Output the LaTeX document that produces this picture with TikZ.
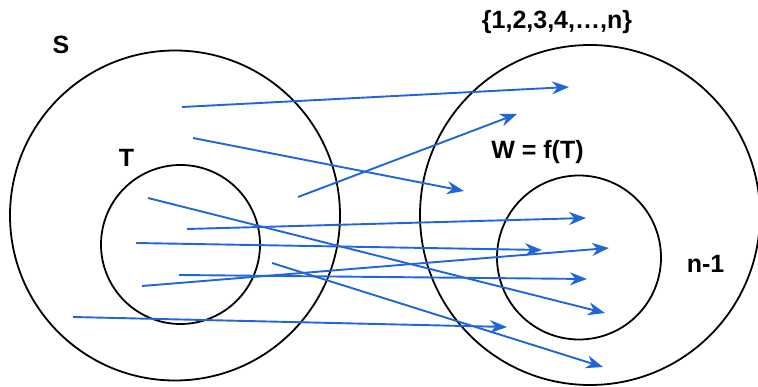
\documentclass[tikz,border=0pt]{standalone}
\usepackage{fontspec}
\setmainfont{Liberation Sans}
\usetikzlibrary{arrows.meta}
\definecolor{mapblue}{RGB}{32,102,218}
\begin{document}
\begin{tikzpicture}[x=1pt,y=-1pt,
  setring/.style={draw=black, line width=1.8pt, circle, inner sep=0pt, outer sep=0pt},
  mapsto/.style={draw=mapblue, line width=1.9pt,
    -{Stealth[length=17pt, width=13pt, inset=5.5pt]}},
  lbl/.style={font=\fontsize{25}{28}\selectfont\bfseries, anchor=base, inner sep=0pt}]
\useasboundingbox (0,0) rectangle (758,387);

% domain S and subset T
\node[setring, minimum size=330pt] (S) at (175,215.5) {};
\node[setring, minimum size=159pt] (T) at (180.5,244.5) {};
% codomain {1,...,n} and image W
\node[setring, minimum size=340pt] (N) at (590,215) {};
\node[setring, minimum size=164pt] (W) at (579,257.5) {};

% labels
\node[lbl] (lS) at (61,54) {S};
\node[lbl] (lT) at (126.5,167) {T};
\node[lbl] (lN) at (557,29) {\{1,2,3,4,\dots,n\}};
\node[lbl] (lW) at (537.5,159) {W = f(T)};
\node[lbl] (ln) at (705.5,273) {n-1};

% arrow end points
\coordinate (a1) at (182,107);  \coordinate (b1) at (569,87);
\coordinate (a2) at (193,138);  \coordinate (b2) at (464,191);
\coordinate (a3) at (298,197);  \coordinate (b3) at (517,114);
\coordinate (a4) at (148,198);  \coordinate (b4) at (605,313);
\coordinate (a5) at (187,229);  \coordinate (b5) at (586,218);
\coordinate (a6) at (136,243);  \coordinate (b6) at (542,250);
\coordinate (a7) at (142,286);  \coordinate (b7) at (609,248);
\coordinate (a8) at (179,275);  \coordinate (b8) at (587,279);
\coordinate (a9) at (272,263);  \coordinate (b9) at (603,367);
\coordinate (a10) at (73,317);  \coordinate (b10) at (507,327);

% the mapping f
\foreach \i in {1,...,10} {
  \draw[mapsto] (a\i) -- (b\i);
}
\end{tikzpicture}
\end{document}
